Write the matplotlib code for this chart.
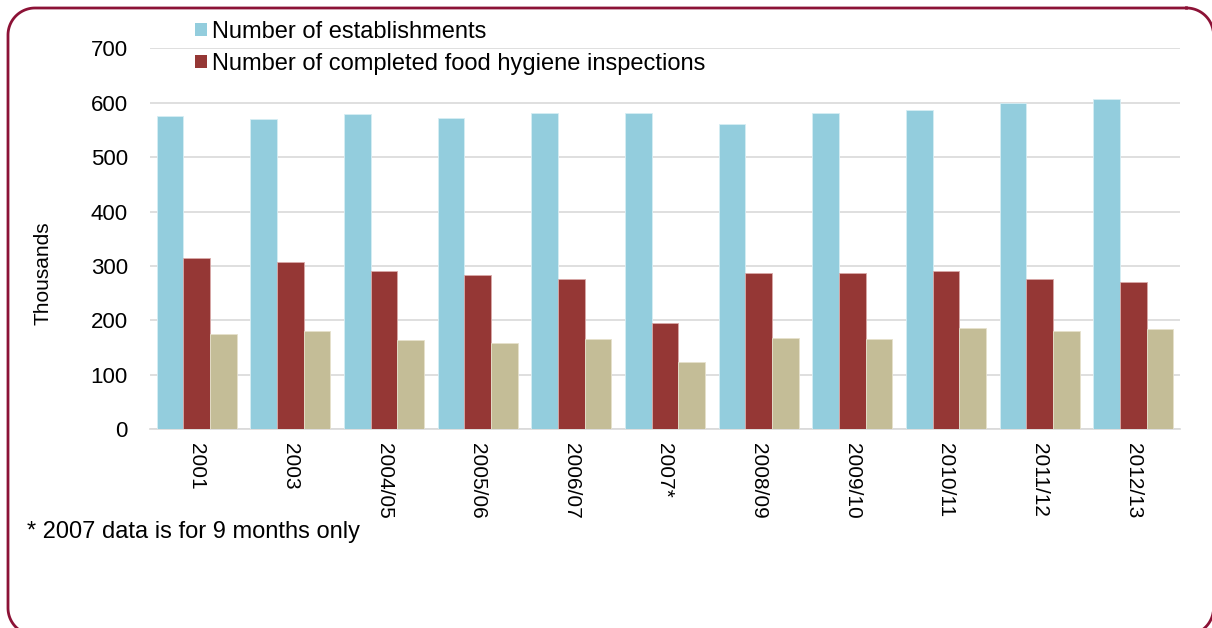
import matplotlib
matplotlib.use("Agg")
import matplotlib.pyplot as plt
from matplotlib.patches import Patch
from matplotlib.lines import Line2D
from matplotlib.transforms import IdentityTransform
import numpy as np

plt.rcParams['font.family'] = ['Liberation Sans', 'DejaVu Sans']

periods = ["2001", "2003", "2004/05", "2005/06", "2006/07", "2007*",
           "2008/09", "2009/10", "2010/11", "2011/12", "2012/13"]
establishments = [576, 570, 580, 572, 581, 582, 560, 582, 587, 599, 607]
inspections = [314, 307, 290, 283, 276, 196, 287, 287, 290, 277, 270]
third_series = [175, 181, 164, 159, 166, 124, 168, 166, 186, 180, 184]
y_ticks = [0, 100, 200, 300, 400, 500, 600, 700]

col_est = "#93CDDD"
col_insp = "#953735"
col_third = "#C4BD97"
grid_col = "#D9D9D9"
border_col = "#8C1236"

W, H = 1212, 628
fig = plt.figure(figsize=(W / 100, H / 100), dpi=100)
ax = fig.add_axes([150 / W, 1 - 429.3 / H, (1180 - 150) / W, (429.3 - 48.3) / H])

x = np.arange(len(periods))
bw = 0.285
ax.bar(x - bw, establishments, bw, color=col_est, edgecolor="#d6eef4", linewidth=0.6, zorder=3)
ax.bar(x, inspections, bw, color=col_insp, edgecolor="#d9a9a8", linewidth=0.6, zorder=3)
ax.bar(x + bw, third_series, bw, color=col_third, edgecolor="#e6e1cc", linewidth=0.6, zorder=3)

ax.set_xlim(-0.5, len(periods) - 0.5)
ax.set_ylim(0, 700)
ax.set_yticks(y_ticks)
ax.set_yticklabels([str(v) for v in y_ticks], fontsize=16)
ax.set_xticks(x)
ax.set_xticklabels(periods, rotation=-90, fontsize=15, va="top", ha="center")
ax.tick_params(axis="both", length=0)
ax.tick_params(axis="y", pad=16)
ax.tick_params(axis="x", pad=10)
ax.yaxis.grid(True, color=grid_col, linewidth=1.2, zorder=0)
ax.set_axisbelow(True)
for s in ["top", "right", "left"]:
    ax.spines[s].set_visible(False)
ax.spines["bottom"].set_color(grid_col)
ax.spines["bottom"].set_linewidth(1.2)

fig.text(43 / W, 1 - 273 / H, "Thousands", rotation=90, ha="center", va="center", fontsize=15)

handles = [Patch(facecolor=col_est), Patch(facecolor=col_insp)]
labels = ["Number of establishments", "Number of completed food hygiene inspections"]
fig.legend(handles, labels, loc="upper left", bbox_to_anchor=(195 / W, 1 - 21 / H),
           frameon=False, fontsize=17, handlelength=0.5, handleheight=0.5,
           handletextpad=0.22, labelspacing=0.42, borderaxespad=0, borderpad=0)

fig.text(27 / W, 1 - 532 / H, "* 2007 data is for 9 months only", ha="left", va="center", fontsize=17)

# rounded frame (pixel coordinates), running just past the right and bottom edges
left, right, top, bottom, r = 8.0, 1213.5, H - 8.0, H - 635.0, 27.0
def corner(cx, cy, a0, a1):
    t = np.linspace(np.radians(a0), np.radians(a1), 30)
    return cx + r * np.cos(t), cy + r * np.sin(t)
segs = [corner(right - r, top - r, 90, 0),
        corner(right - r, bottom + r, 0, -90),
        corner(left + r, bottom + r, 270, 180),
        corner(left + r, top - r, 180, 90)]
bx = np.concatenate([s[0] for s in segs] + [segs[0][0][:1]])
by = np.concatenate([s[1] for s in segs] + [segs[0][1][:1]])
fig.add_artist(Line2D(bx, by, transform=IdentityTransform(), color=border_col,
                      linewidth=2, solid_joinstyle="round"))

fig.savefig("out.png", dpi=100)
